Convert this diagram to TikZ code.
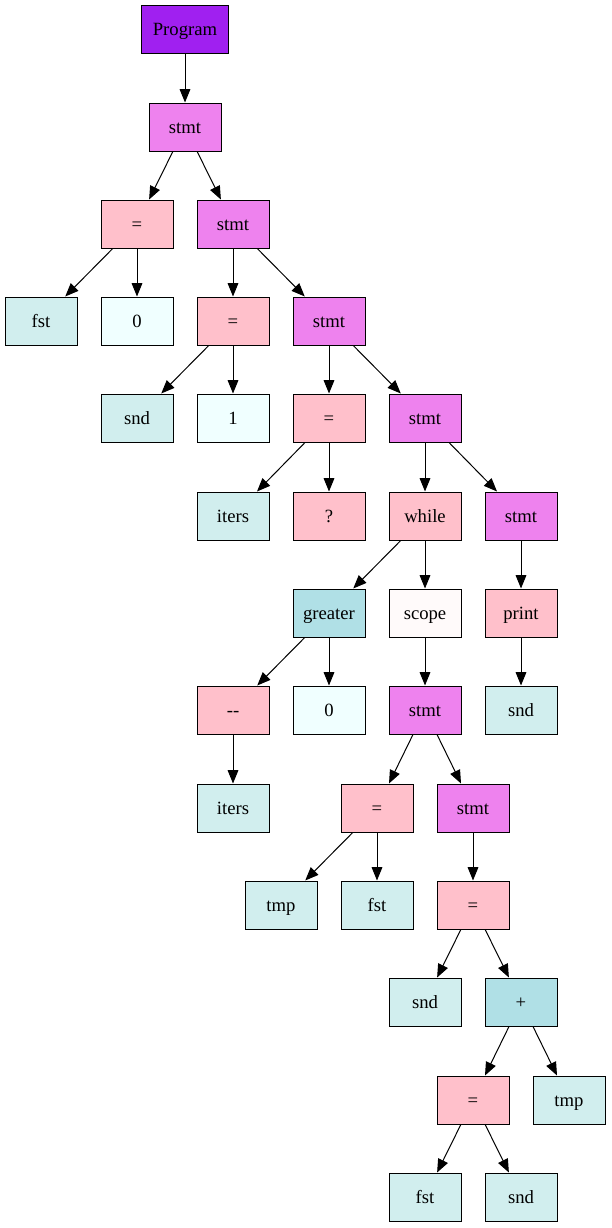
\documentclass[tikz,border=0pt]{standalone}
\usepackage{fontspec}
\setmainfont{Liberation Serif}
\usetikzlibrary{arrows.meta}

\definecolor{progcol}{HTML}{A020F0}
\definecolor{stmtcol}{HTML}{EE82EE}
\definecolor{opcol}{HTML}{FFC0CB}
\definecolor{idcol}{HTML}{D1EEEE}
\definecolor{numcol}{HTML}{F0FFFF}
\definecolor{cmpcol}{HTML}{B0E0E6}
\definecolor{scopecol}{HTML}{FFFAFA}

\begin{document}
\begin{tikzpicture}[x=0.75pt,y=-0.75pt]
\tikzset{box/.style = {shape=rectangle,draw,line width=0.75pt,minimum width=54pt,minimum height=36pt,inner sep=2pt,text height=10.5pt,text depth=1.5pt,font=\fontsize{14pt}{16pt}\selectfont}}
\tikzset{prog/.style = {box,fill=progcol,minimum width=65.25pt}}
\tikzset{stmt/.style = {box,fill=stmtcol}}
\tikzset{op/.style = {box,fill=opcol}}
\tikzset{ident/.style = {box,fill=idcol}}
\tikzset{num/.style = {box,fill=numcol}}
\tikzset{cmp/.style = {box,fill=cmpcol}}
\tikzset{scp/.style = {box,fill=scopecol}}
\tikzset{edge/.style = {-{Triangle[length=10pt,width=8pt]},line width=0.75pt}}
\useasboundingbox (0,0) rectangle (611,1228);
% vertices
\node[prog]  (prog)   at (185,29)   {Program};
\node[stmt]  (s1)     at (185,127)  {stmt};
\node[op]    (as1)    at (137,224)  {=};
\node[stmt]  (s2)     at (233,224)  {stmt};
\node[ident] (fst1)   at (41,321)   {fst};
\node[num]   (zero1)  at (137,321)  {0};
\node[op]    (as2)    at (233,321)  {=};
\node[stmt]  (s3)     at (329,321)  {stmt};
\node[ident] (snd1)   at (137,418)  {snd};
\node[num]   (one)    at (233,418)  {1};
\node[op]    (as3)    at (329,418)  {=};
\node[stmt]  (s4)     at (425,418)  {stmt};
\node[ident] (iters1) at (233,516)  {iters};
\node[op]    (quest)  at (329,516)  {?};
\node[op]    (wh)     at (425,516)  {while};
\node[stmt]  (s5)     at (521,516)  {stmt};
\node[cmp]   (gt)     at (329,613)  {greater};
\node[scp]   (scope)  at (425,613)  {scope};
\node[op]    (pr)     at (521,613)  {print};
\node[op]    (dec)    at (233,710)  {-{}-};
\node[num]   (zero2)  at (329,710)  {0};
\node[stmt]  (s6)     at (425,710)  {stmt};
\node[ident] (snd2)   at (521,710)  {snd};
\node[ident] (iters2) at (233,808)  {iters};
\node[op]    (as4)    at (377,808)  {=};
\node[stmt]  (s7)     at (473,808)  {stmt};
\node[ident] (tmp1)   at (281,905)  {tmp};
\node[ident] (fst2)   at (377,905)  {fst};
\node[op]    (as5)    at (473,905)  {=};
\node[ident] (snd3)   at (425,1002) {snd};
\node[cmp]   (plus)   at (521,1002) {+};
\node[op]    (as6)    at (473,1100) {=};
\node[ident] (tmp2)   at (569,1100) {tmp};
\node[ident] (fst3)   at (425,1197) {fst};
\node[ident] (snd4)   at (521,1197) {snd};
%edges
\draw[edge] (prog) to (s1);
\draw[edge] (s1) to (as1);
\draw[edge] (s1) to (s2);
\draw[edge] (as1) to (fst1);
\draw[edge] (as1) to (zero1);
\draw[edge] (s2) to (as2);
\draw[edge] (s2) to (s3);
\draw[edge] (as2) to (snd1);
\draw[edge] (as2) to (one);
\draw[edge] (s3) to (as3);
\draw[edge] (s3) to (s4);
\draw[edge] (as3) to (iters1);
\draw[edge] (as3) to (quest);
\draw[edge] (s4) to (wh);
\draw[edge] (s4) to (s5);
\draw[edge] (wh) to (gt);
\draw[edge] (wh) to (scope);
\draw[edge] (s5) to (pr);
\draw[edge] (gt) to (dec);
\draw[edge] (gt) to (zero2);
\draw[edge] (scope) to (s6);
\draw[edge] (pr) to (snd2);
\draw[edge] (dec) to (iters2);
\draw[edge] (s6) to (as4);
\draw[edge] (s6) to (s7);
\draw[edge] (as4) to (tmp1);
\draw[edge] (as4) to (fst2);
\draw[edge] (s7) to (as5);
\draw[edge] (as5) to (snd3);
\draw[edge] (as5) to (plus);
\draw[edge] (plus) to (as6);
\draw[edge] (plus) to (tmp2);
\draw[edge] (as6) to (fst3);
\draw[edge] (as6) to (snd4);
\end{tikzpicture}
\end{document}
